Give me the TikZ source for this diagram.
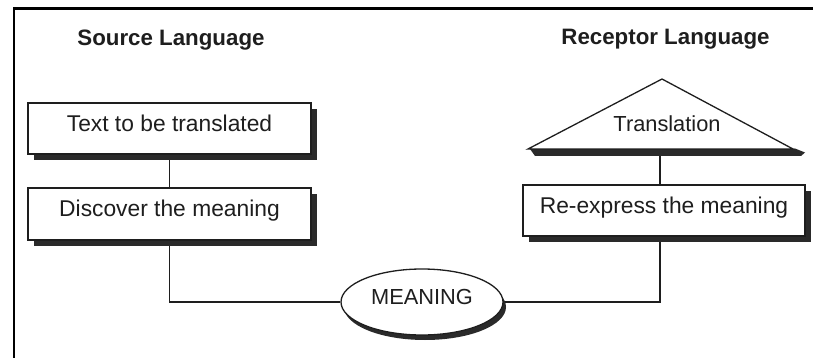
\documentclass[tikz,border=0pt]{standalone}
\usepackage{fontspec}
\setmainfont{Liberation Sans}
\usetikzlibrary{shapes.geometric,shadows,backgrounds}
\definecolor{ink}{HTML}{1E1E1E}
\definecolor{shadowgray}{HTML}{2A2A2A}
\begin{document}
\begin{tikzpicture}[x=1pt,y=-1pt,
  txt/.style={font=\fontsize{22.8}{27}\selectfont, text=ink},
  smalltxt/.style={font=\fontsize{21.8}{26}\selectfont, text=ink},
  head/.style={font=\fontsize{22.3}{27}\selectfont\bfseries, text=ink, inner sep=0pt},
  sbox/.style={txt, draw=ink, line width=1.3pt, fill=white, inner sep=0pt,
    text height=0.72em, text depth=0.21em},
  boxshadow/.style={drop shadow={shadow xshift=6pt, shadow yshift=-6pt, fill=shadowgray, opacity=1}},
  ellshadow/.style={drop shadow={shadow xshift=3pt, shadow yshift=-5pt, fill=shadowgray, opacity=1}},
  link/.style={draw=ink, line width=1.2pt},
  frameline/.style={draw=black, line width=2.7pt, line join=miter},
]
\useasboundingbox (0,0) rectangle (813,358);

% frame
\draw[frameline] (14,365) -- (14,8.3) -- (820,8.3);

% headings
\node[head, anchor=base] (h1) at (171,46) {Source Language};
\node[head, anchor=base] (h2) at (665.5,45) {Receptor Language};

% boxes
\node[sbox, boxshadow, minimum width=283pt, minimum height=51pt] (b1) at (169.5,128.5) {Text to be translated};
\node[sbox, boxshadow, minimum width=283pt, minimum height=52pt] (b2) at (169.5,214) {Discover the meaning};
\node[sbox, boxshadow, minimum width=282pt, minimum height=51pt] (b3) at (664,210.5) {Re-express the meaning};

% triangle
\fill[fill=shadowgray] (530,149) -- (795,148.5) -- (805,152.5) -- (801,156) -- (535,156) -- cycle;
\draw[draw=ink, line width=1.3pt, fill=white, line join=miter] (528,149) -- (662,79) -- (793,149) -- cycle;
\node[smalltxt, anchor=base, inner sep=0pt] (tr) at (667,132) {Translation};
\coordinate (tb) at (660,149);

% meaning ellipse
\node[sbox, smalltxt, ellipse, ellshadow, minimum width=162pt, minimum height=66pt] (mean) at (422,302) {MEANING};

% connectors
\begin{scope}[on background layer]
\draw[link] (b1.south) -- (b2.north);
\draw[link] (tb) -- (tb |- b3.north);
\draw[link] (b2.south) |- (mean.west);
\draw[link] (b3.south -| tb) |- (mean.east);
\end{scope}
\end{tikzpicture}
\end{document}
